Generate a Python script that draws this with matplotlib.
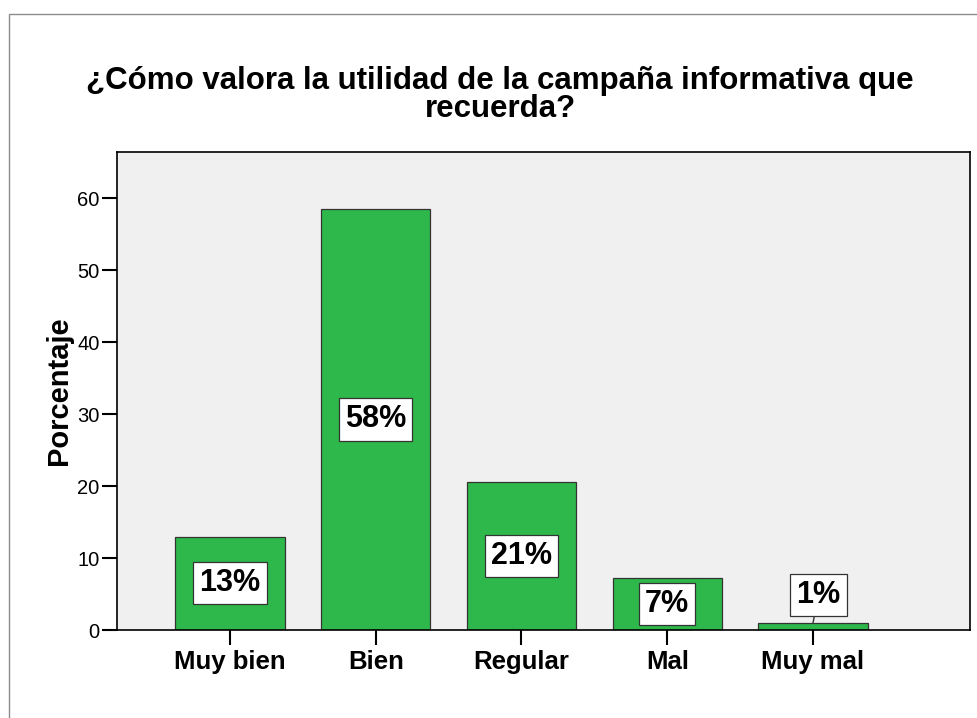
import matplotlib
matplotlib.use("Agg")
import matplotlib.pyplot as plt
from matplotlib.patches import Rectangle

plt.rcParams['font.family'] = ['Liberation Sans', 'DejaVu Sans']

# data
categories = ['Muy bien', 'Bien', 'Regular', 'Mal', 'Muy mal']
percent = [12.95, 58.5, 20.6, 7.2, 1.0]
labels = ['13%', '58%', '21%', '7%', '1%']
yticks = [0, 10, 20, 30, 40, 50, 60]

fig = plt.figure(figsize=(9.78, 7.18), dpi=100)

# outer frame of the chart (gray line at top and left)
fig.patches.append(Rectangle((9 / 978, -0.1), 1.2, 1.1 - 14 / 718,
                             transform=fig.transFigure, fill=False,
                             edgecolor='#8c8c8c', lw=1.0))

ax = fig.add_axes([117 / 978, 88 / 718, 853 / 978, 478 / 718])
ax.set_facecolor('#f0f0f0')

x = list(range(len(categories)))
ax.bar(x, percent, width=0.75, color='#2eb84b', edgecolor='#333333', lw=0.9, zorder=2)

for xi, v, lab in zip(x, percent, labels):
    box = dict(boxstyle='square,pad=0.2', fc='white', ec='#333333', lw=0.9)
    if v < 3:
        # small bar: label sits above with a leader line
        ax.annotate(lab, xy=(xi, v), xytext=(4, 20), textcoords='offset points',
                    ha='center', va='center', fontsize=22, fontweight='bold',
                    bbox=box, zorder=4,
                    arrowprops=dict(arrowstyle='-', color='#333333', lw=1,
                                    shrinkA=0, shrinkB=0))
    else:
        ax.text(xi, v / 2, lab, ha='center', va='center', fontsize=22,
                fontweight='bold', bbox=box, zorder=4)

ax.set_xlim(-0.775, 5.077)
ax.set_ylim(0, 66.4)
ax.set_xticks(x)
ax.set_xticklabels(categories, fontsize=18.5, fontweight='bold')
ax.set_yticks(yticks)
ax.set_yticklabels([str(t) for t in yticks], fontsize=14.5)
ax.tick_params(axis='both', direction='out', length=10.5, width=1.5, color='black')
ax.tick_params(axis='x', pad=4)
ax.tick_params(axis='y', pad=2)
for s in ax.spines.values():
    s.set_linewidth(1.2)
    s.set_color('black')

ax.set_ylabel('Porcentaje', fontsize=21, fontweight='bold', labelpad=3)

fig.text(500 / 978, 1 - 95 / 718,
         '¿Cómo valora la utilidad de la campaña informativa que\nrecuerda?',
         ha='center', va='center', fontsize=22.5, fontweight='bold', linespacing=0.94)

fig.savefig('out.png', dpi=100)
